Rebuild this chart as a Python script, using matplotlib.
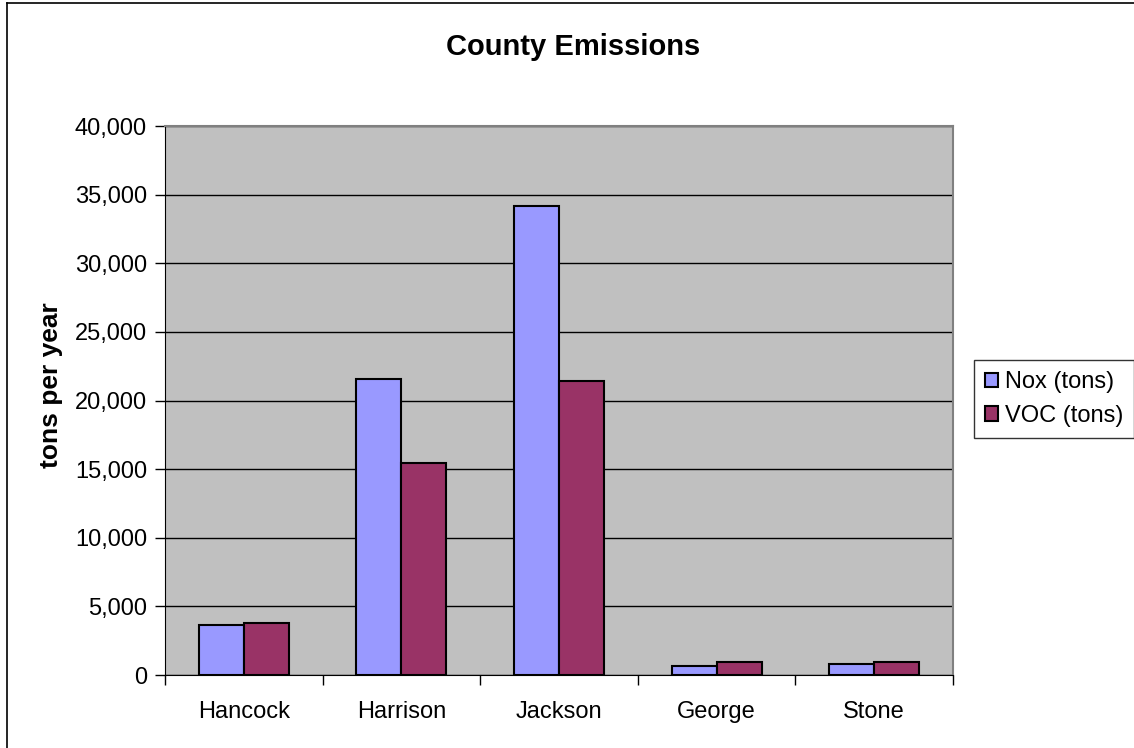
import numpy as np
import matplotlib.pyplot as plt
from matplotlib.ticker import FuncFormatter
from matplotlib.lines import Line2D

plt.rcParams['font.family'] = ['Liberation Sans', 'DejaVu Sans']

# data
counties = ["Hancock", "Harrison", "Jackson", "George", "Stone"]
nox = [3650, 21550, 34150, 680, 800]
voc = [3780, 15450, 21400, 925, 940]
series_names = ["Nox (tons)", "VOC (tons)"]
colors = ["#9999FF", "#993366"]

fig = plt.figure(figsize=(11.34, 7.48), dpi=100)
ax = fig.add_axes([165 / 1134, 1 - 675 / 748, 788 / 1134, 549 / 748])
ax.set_facecolor("#C0C0C0")

x = np.arange(len(counties))
w = 1 / 3.5
ax.bar(x - w / 2, nox, w, color=colors[0], edgecolor="black", linewidth=1.5,
       label=series_names[0], zorder=3)
ax.bar(x + w / 2, voc, w, color=colors[1], edgecolor="black", linewidth=1.5,
       label=series_names[1], zorder=3)

ax.set_xlim(-0.5, len(counties) - 0.5)
ax.set_ylim(0, 40000)
ax.set_yticks(np.arange(0, 40001, 5000))
ax.yaxis.set_major_formatter(FuncFormatter(lambda v, p: f"{int(v):,}"))
ax.yaxis.grid(True, color="black", linewidth=1, zorder=1)
ax.set_axisbelow(True)

# category labels at centres, tick marks between categories
ax.set_xticks(x)
ax.set_xticklabels(counties)
ax.set_xticks(np.arange(-0.5, len(counties), 1), minor=True)
ax.tick_params(axis="x", which="major", length=0, pad=19, labelsize=17)
ax.tick_params(axis="x", which="minor", length=7, width=1, direction="out")
ax.tick_params(axis="y", length=7, width=1, direction="out", pad=6, labelsize=17)

for s in ["top", "right"]:
    ax.spines[s].set_color("#808080")
    ax.spines[s].set_linewidth(1.5)
ax.spines["left"].set_color("black")
ax.spines["bottom"].set_color("black")

fig.text(51 / 1134, 1 - 385 / 748, "tons per year", rotation=90, ha="center",
         va="center", fontsize=19, fontweight="bold")
fig.text(0.505, 1 - 47 / 748, "County Emissions", ha="center", va="center",
         fontsize=21, fontweight="bold")

leg = ax.legend(loc="center left", bbox_to_anchor=(974 / 1134, 1 - 399 / 748),
                bbox_transform=fig.transFigure, fontsize=17, frameon=True,
                fancybox=False, edgecolor="black", borderpad=0.45,
                handlelength=0.55, handleheight=0.55, handletextpad=0.3,
                labelspacing=0.5, borderaxespad=0)
leg.get_frame().set_linewidth(1)

# outer chart border
fig.add_artist(Line2D([7 / 1134, 7 / 1134], [0, 1 - 3 / 748], color="black", lw=1.2))
fig.add_artist(Line2D([7 / 1134, 1], [1 - 3 / 748, 1 - 3 / 748], color="black", lw=1.2))

fig.savefig("out.png", dpi=100)
